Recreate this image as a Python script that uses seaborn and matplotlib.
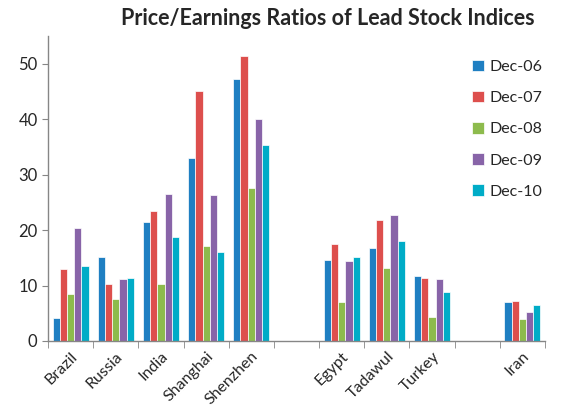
import pandas as pd
import matplotlib
matplotlib.use("Agg")
import matplotlib.pyplot as plt
import seaborn as sns
import numpy as np

# data
markets = ['Brazil', 'Russia', 'India', 'Shanghai', 'Shenzhen', 'Egypt', 'Tadawul', 'Turkey', 'Iran']
slots = ['Brazil', 'Russia', 'India', 'Shanghai', 'Shenzhen', 'gap1', 'Egypt', 'Tadawul', 'Turkey', 'gap2', 'Iran']
slot_labels = ['Brazil', 'Russia', 'India', 'Shanghai', 'Shenzhen', '', 'Egypt', 'Tadawul', 'Turkey', '', 'Iran']
periods = ['Dec-06', 'Dec-07', 'Dec-08', 'Dec-09', 'Dec-10']

dec06 = [4.1, 15.2, 21.4, 33.0, 47.3, 14.6, 16.7, 11.8, 7.0]
dec07 = [13.0, 10.3, 23.5, 45.1, 51.4, 17.4, 21.9, 11.3, 7.2]
dec08 = [8.4, 7.6, 10.3, 17.1, 27.6, 7.0, 13.1, 4.3, 4.0]
dec09 = [20.3, 11.1, 26.5, 26.3, 40.0, 14.4, 22.7, 11.1, 5.2]
dec10 = [13.5, 11.3, 18.7, 16.0, 35.3, 15.1, 18.0, 8.9, 6.4]

colors = ['#1f7fc2', '#dd4f4d', '#8dbb4d', '#8864a8', '#00acc7']

df = pd.DataFrame({'Market': markets, 'Dec-06': dec06, 'Dec-07': dec07,
                   'Dec-08': dec08, 'Dec-09': dec09, 'Dec-10': dec10})
long_df = df.melt(id_vars='Market', var_name='Period', value_name='PE')

sns.set_style('white')
plt.rcParams['font.family'] = ['Lato', 'DejaVu Sans']

fig = plt.figure(figsize=(5.79, 4.09), dpi=100)
ax = fig.add_axes([0.0829, 0.1663, 0.8584, 0.7457])

sns.barplot(data=long_df, x='Market', y='PE', hue='Period', order=slots,
            hue_order=periods, palette=colors, saturation=1, width=0.8,
            errorbar=None, edgecolor='white', linewidth=0.5, ax=ax)

ax.set_xlim(-0.5, len(slots) - 0.5)
ax.set_ylim(0, 55)
ax.set_yticks([0, 10, 20, 30, 40, 50])
ax.set_xticks(range(len(slots)))
ax.set_xticklabels(slot_labels, rotation=45, ha='right', rotation_mode='anchor', fontsize=11.5)
ax.set_xticks(np.arange(-0.5, len(slots), 1), minor=True)
ax.tick_params(axis='x', which='major', length=0, pad=6)
ax.tick_params(axis='x', which='minor', length=5, color='#868686', direction='out', bottom=True)
ax.tick_params(axis='y', length=4, color='#868686', direction='out', left=True, labelsize=12)
ax.set_xlabel('')
ax.set_ylabel('')

sns.despine(ax=ax)
for s in ['left', 'bottom']:
    ax.spines[s].set_color('#868686')
    ax.spines[s].set_linewidth(1)

ax.legend(loc='upper left', bbox_to_anchor=(0.804, 0.87), bbox_transform=fig.transFigure,
          frameon=False, fontsize=11.5, handlelength=0.75, handleheight=0.75,
          handletextpad=0.35, labelspacing=1.05, borderaxespad=0)

fig.text(0.566, 0.955, 'Price/Earnings Ratios of Lead Stock Indices',
         ha='center', va='center', fontsize=15.5, fontweight='bold')

fig.savefig('out.png', dpi=100)
